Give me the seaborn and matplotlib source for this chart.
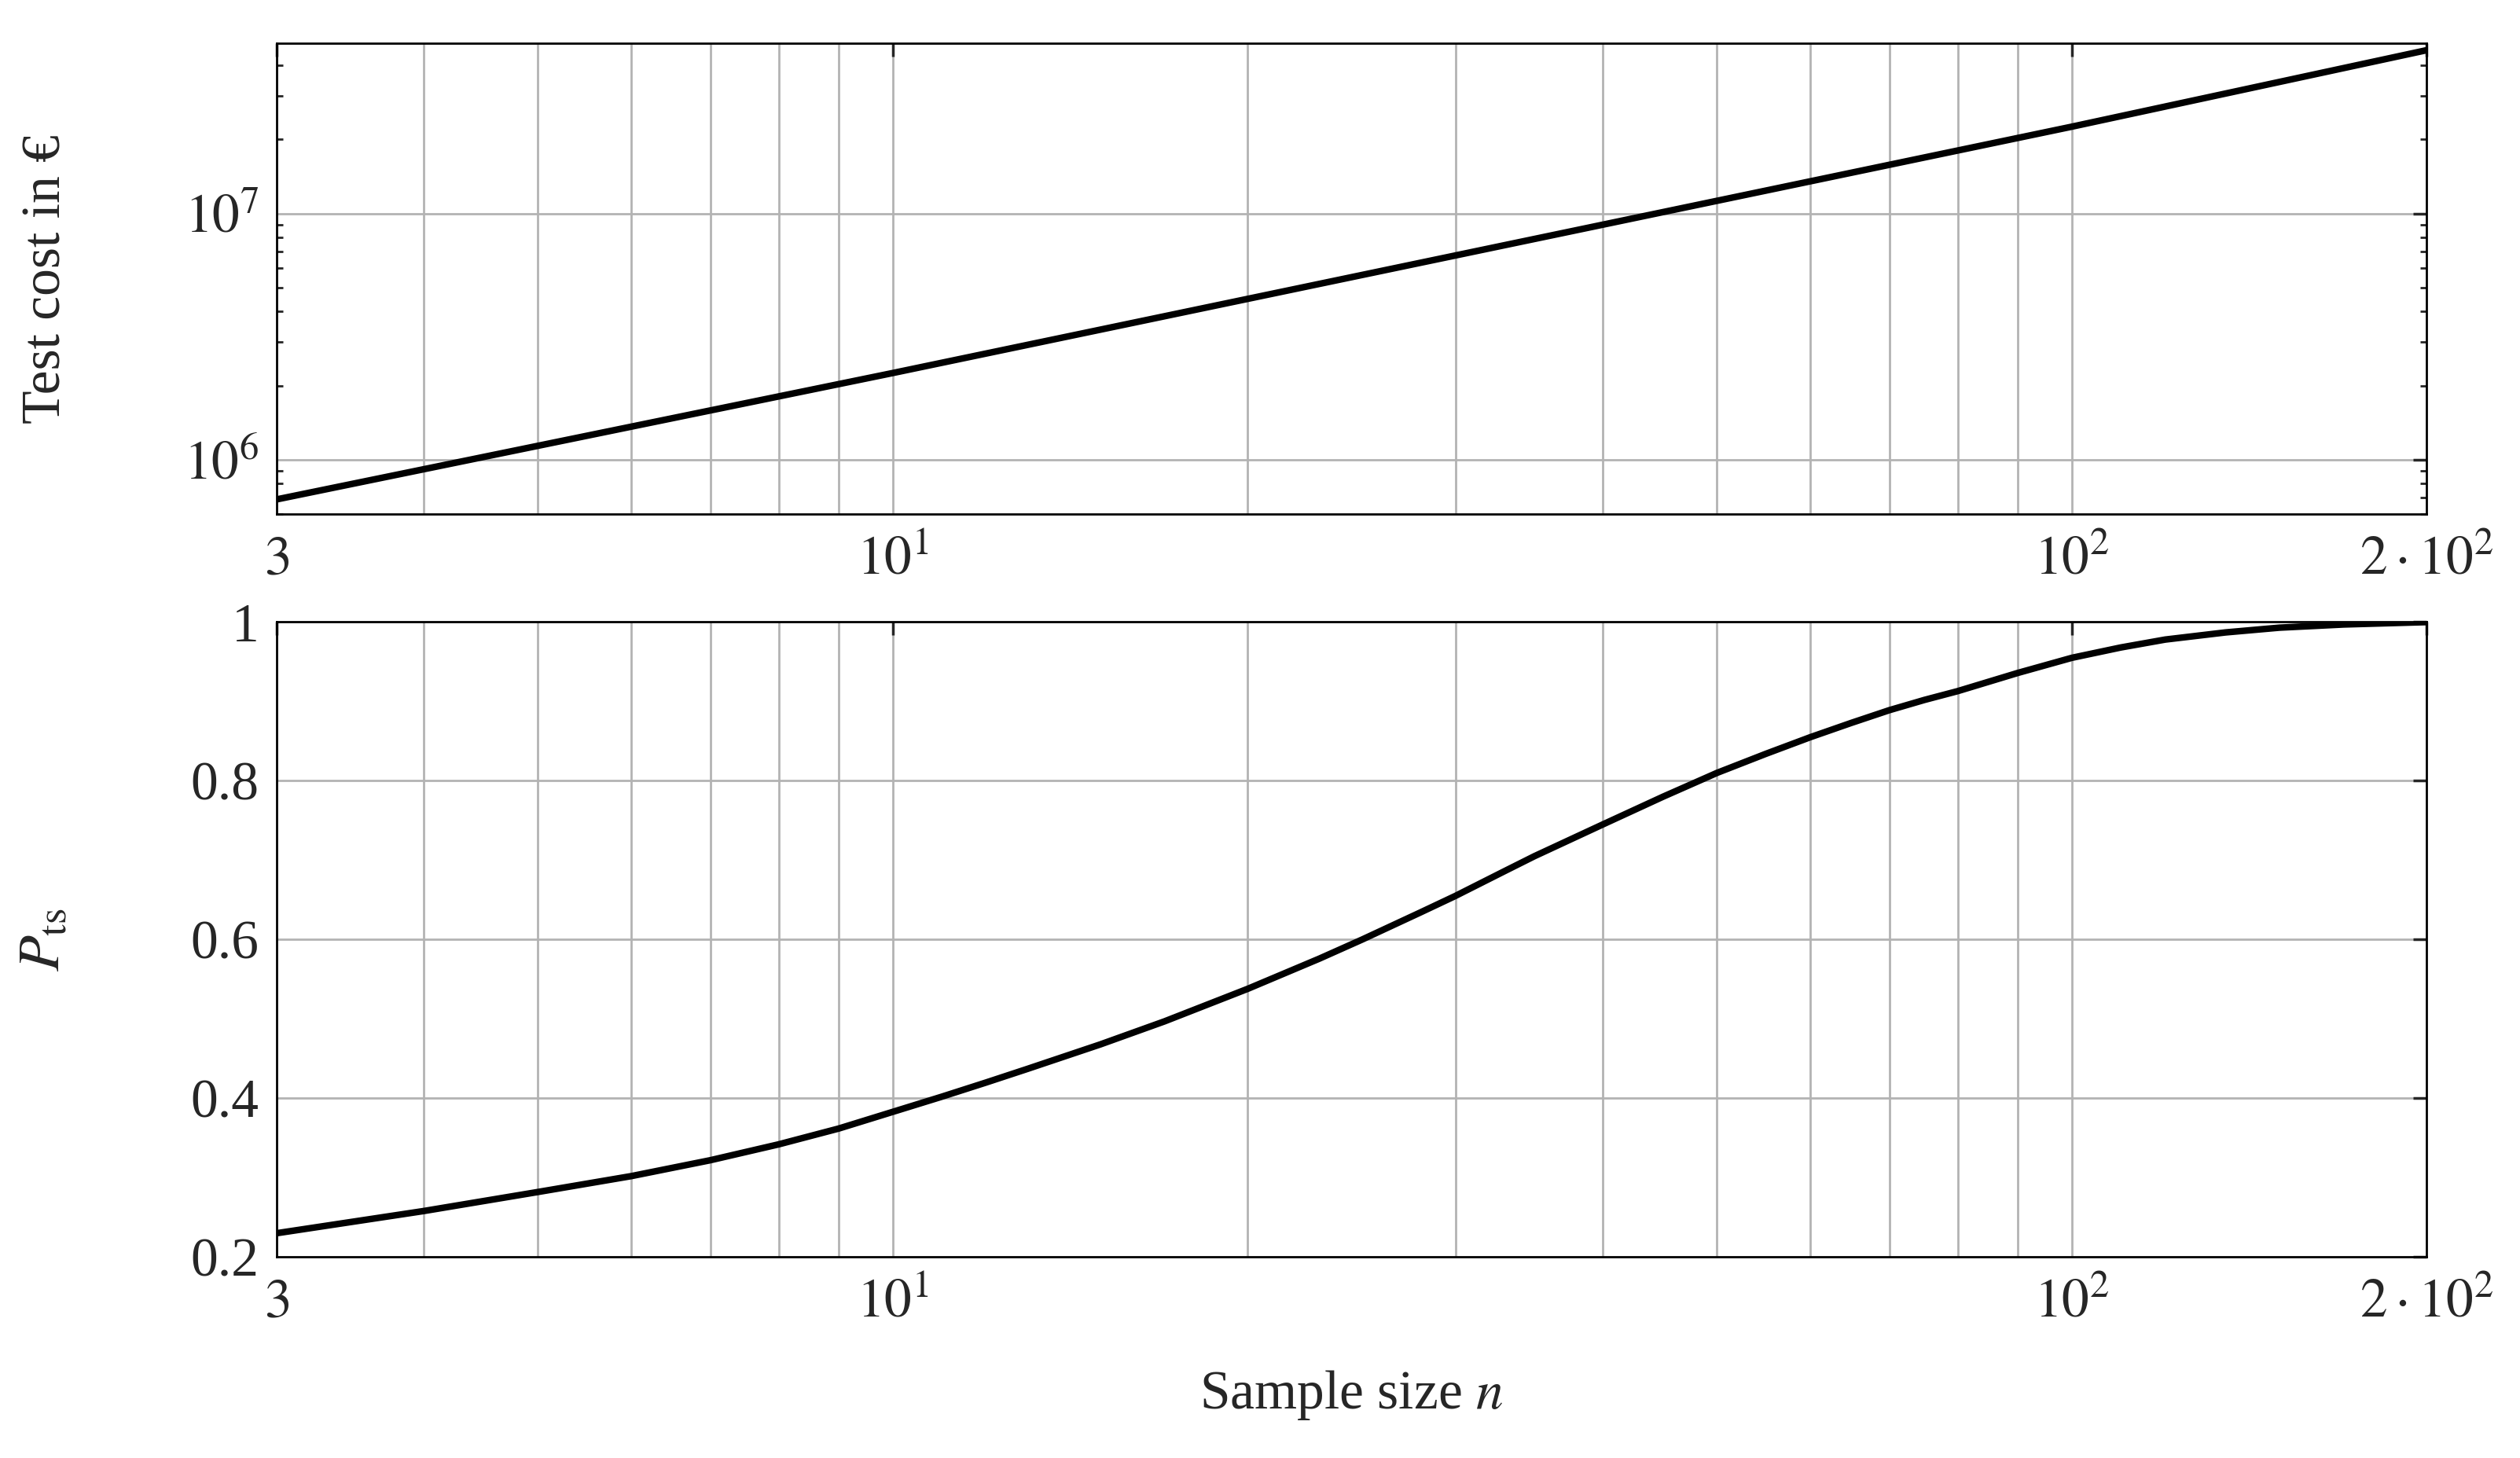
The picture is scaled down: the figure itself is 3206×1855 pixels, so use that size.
import matplotlib
matplotlib.use("Agg")
import matplotlib.pyplot as plt
import matplotlib.ticker as mtick
import numpy as np
import seaborn as sns

sns.set_theme(style="white")
plt.rcParams["font.family"] = ["Liberation Serif", "DejaVu Serif"]
plt.rcParams["mathtext.fontset"] = "stix"

# data
n_cost = [3, 10, 100, 200]
cost = [6.9e5, 2.25e6, 2.25e7, 4.6e7]
n_p = [3, 4, 5, 6, 7, 8, 9, 10, 11, 12, 13, 15, 17, 20, 23, 25, 28, 30, 33, 35, 40, 45,
       50, 55, 60, 65, 70, 75, 80, 90, 100, 110, 120, 135, 150, 170, 200]
p_ts = [0.23, 0.258, 0.282, 0.302, 0.322, 0.342, 0.362, 0.383, 0.402, 0.42, 0.437, 0.468,
        0.497, 0.538, 0.576, 0.6, 0.634, 0.655, 0.686, 0.705, 0.745, 0.78,
        0.81, 0.834, 0.855, 0.873, 0.889, 0.902, 0.913, 0.936, 0.955, 0.968, 0.978, 0.987,
        0.993, 0.997, 1.0]
xticks = [3, 10, 100, 200]
xticklabels = ["$3$", "$10^{1}$", "$10^{2}$", r"$2\cdot10^{2}$"]
grid_x = [4, 5, 6, 7, 8, 9, 10, 20, 30, 40, 50, 60, 70, 80, 90, 100]

fig = plt.figure(figsize=(16.03, 9.275), dpi=200)
ax1 = fig.add_axes([172 / 1568, 1 - 320 / 907, 1338 / 1568, 293 / 907])
ax2 = fig.add_axes([172 / 1568, 1 - 782 / 907, 1338 / 1568, 395 / 907])

sns.lineplot(x=n_cost, y=cost, ax=ax1, color="black", lw=3)
sns.lineplot(x=n_p, y=p_ts, ax=ax2, color="black", lw=3)

for ax in (ax1, ax2):
    ax.set_xscale("log")
    ax.set_xlim(3, 200)
    for gx in grid_x:
        ax.axvline(gx, color="#b3b3b3", lw=1, zorder=0)
    ax.set_xticks(xticks)
    ax.set_xticklabels(xticklabels)
    ax.xaxis.set_minor_locator(mtick.NullLocator())
    ax.tick_params(axis="both", direction="in", top=True, right=True, length=6, labelsize=25)
    ax.tick_params(axis="x", pad=10)
    ax.tick_params(axis="y", pad=8)
    for s in ax.spines.values():
        s.set_color("black")
        s.set_linewidth(1)

ax1.set_yscale("log")
ax1.set_ylim(6.0e5, 4.9e7)
ax1.set_yticks([1e6, 1e7])
ax1.set_yticklabels(["$10^{6}$", "$10^{7}$"])
ax1.yaxis.set_minor_locator(mtick.LogLocator(base=10, subs=np.arange(2, 10)))
ax1.yaxis.set_minor_formatter(mtick.NullFormatter())
ax1.tick_params(axis="y", which="minor", direction="in", left=True, right=True, length=3)
for gy in [1e6, 1e7]:
    ax1.axhline(gy, color="#b3b3b3", lw=1, zorder=0)
ax1.set_ylabel("Test cost in €", fontsize=25)

ax2.set_ylim(0.2, 1.0)
ax2.set_yticks([0.2, 0.4, 0.6, 0.8, 1.0])
ax2.set_yticklabels(["0.2", "0.4", "0.6", "0.8", "1"])
for gy in [0.4, 0.6, 0.8]:
    ax2.axhline(gy, color="#b3b3b3", lw=1, zorder=0)
ax2.set_ylabel(r"$P_{\mathrm{ts}}$", fontsize=27)
ax2.set_xlabel("Sample size $n$", fontsize=25, labelpad=18)
ax1.yaxis.set_label_coords(-0.095, 0.5)
ax2.yaxis.set_label_coords(-0.095, 0.5)

fig.savefig("out.png", dpi=200)
